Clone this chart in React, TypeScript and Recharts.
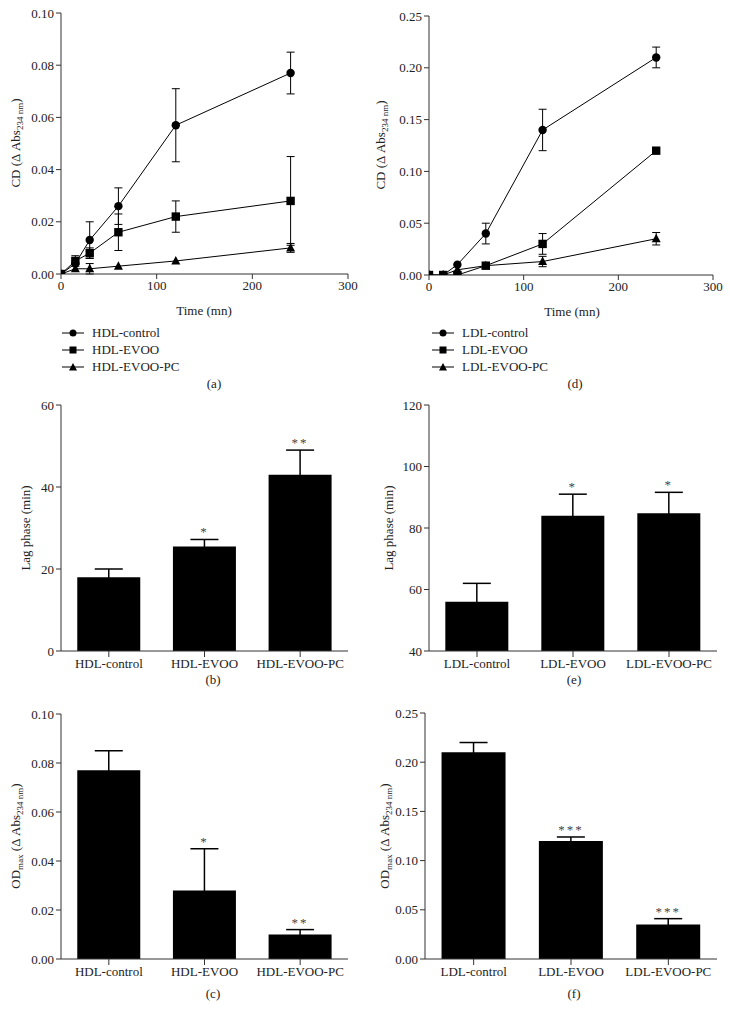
import React from 'react';
import { LineChart, Line, BarChart, Bar, XAxis, YAxis, ErrorBar, LabelList } from 'recharts';

const FONT = '"Liberation Serif", "DejaVu Serif", serif';
const AXIS = '#333';
const TXT = '#222';

// ---------- Kinetics (a) HDL ----------
const timePoints = [0, 15, 30, 60, 120, 240];
const hdlControl = [0, 0.004, 0.013, 0.026, 0.057, 0.077];
const hdlControlErr = [null, null, 0.007, 0.007, 0.014, 0.008];
const hdlEvoo = [0, 0.005, 0.008, 0.016, 0.022, 0.028];
const hdlEvooErr = [null, 0.002, 0.002, 0.007, 0.006, 0.017];
const hdlEvooPc = [0, 0.002, 0.002, 0.003, 0.005, 0.010];
const hdlEvooPcErr = [null, null, 0.002, null, null, 0.0017];

// ---------- Kinetics (d) LDL ----------
const ldlControl = [0, 0, 0.01, 0.04, 0.14, 0.21];
const ldlControlErr = [null, null, null, 0.01, 0.02, 0.01];
const ldlEvoo = [0, 0, 0, 0.009, 0.03, 0.12];
const ldlEvooErr = [null, null, null, null, 0.01, null];
const ldlEvooPc = [0, 0, 0.005, 0.009, 0.013, 0.035];
const ldlEvooPcErr = [null, null, null, null, 0.005, 0.006];

// ---------- Bars ----------
const hdlGroups = ['HDL-control', 'HDL-EVOO', 'HDL-EVOO-PC'];
const ldlGroups = ['LDL-control', 'LDL-EVOO', 'LDL-EVOO-PC'];
const hdlLag = [18, 25.5, 43];
const hdlLagErr = [2, 1.7, 6];
const hdlLagSig = ['', '*', '**'];
const ldlLag = [56, 84, 84.8];
const ldlLagErr = [6, 7, 6.8];
const ldlLagSig = ['', '*', '*'];
const hdlOdMax = [0.077, 0.028, 0.010];
const hdlOdMaxErr = [0.008, 0.017, 0.002];
const hdlOdMaxSig = ['', '*', '**'];
const ldlOdMax = [0.21, 0.12, 0.035];
const ldlOdMaxErr = [0.01, 0.004, 0.006];
const ldlOdMaxSig = ['', '***', '***'];

const cdTicksA = [0, 0.02, 0.04, 0.06, 0.08, 0.1];
const cdTicksD = [0, 0.05, 0.1, 0.15, 0.2, 0.25];
const lagTicksB = [0, 20, 40, 60];
const lagTicksE = [40, 60, 80, 100, 120];
const timeTicks = [0, 100, 200, 300];

const PAD_L = 60, PAD_T = 10, PAD_R = 12, PAD_B = 30;
type Box = { x0: number; y0: number; x1: number; y1: number };
const frame = (p: Box) => ({
  position: 'absolute' as const,
  left: p.x0 - PAD_L,
  top: p.y0 - PAD_T,
  width: p.x1 - p.x0 + PAD_L + PAD_R,
  height: p.y1 - p.y0 + PAD_T + PAD_B,
});

const tickStyle = { fontFamily: FONT, fontSize: 13, fill: TXT };

const CircleDot = (props: any) => {
  const { cx, cy, index } = props;
  if (cx == null || cy == null) return <g key={index} />;
  return <circle key={index} cx={cx} cy={cy} r={4.2} fill="#000" />;
};
const SquareDot = (props: any) => {
  const { cx, cy, index } = props;
  if (cx == null || cy == null) return <g key={index} />;
  return <rect key={index} x={cx - 4.2} y={cy - 4.2} width={8.4} height={8.4} fill="#000" />;
};
const TriDot = (props: any) => {
  const { cx, cy, index } = props;
  if (cx == null || cy == null) return <g key={index} />;
  return <polygon key={index} points={`${cx},${cy - 5} ${cx + 4.5},${cy + 3.5} ${cx - 4.5},${cy + 3.5}`} fill="#000" />;
};

const buildKinetic = (a: number[], ae: any[], b: number[], be: any[], c: number[], ce: any[]) =>
  timePoints.map((t, i) => ({ t, c1: a[i], c1e: ae[i], c2: b[i], c2e: be[i], c3: c[i], c3e: ce[i] }));

const fmt2 = (v: number) => v.toFixed(2);

function KineticPanel({ box, data, domain, ticks }: { box: Box; data: any[]; domain: [number, number]; ticks: number[] }) {
  const f = frame(box);
  return (
    <div style={f}>
      <LineChart width={f.width} height={f.height} data={data} margin={{ top: PAD_T, right: PAD_R, left: 0, bottom: 0 }}>
        <XAxis dataKey="t" type="number" domain={[0, 300]} ticks={timeTicks} height={PAD_B} stroke={AXIS} tick={tickStyle} tickSize={5} allowDataOverflow />
        <YAxis type="number" domain={domain} ticks={ticks} width={PAD_L} stroke={AXIS} tick={tickStyle} tickSize={5} tickFormatter={fmt2} allowDataOverflow />
        <Line dataKey="c1" stroke="#000" strokeWidth={1} dot={CircleDot} isAnimationActive={false}>
          <ErrorBar dataKey="c1e" width={4} stroke="#000" strokeWidth={1} direction="y" />
        </Line>
        <Line dataKey="c3" stroke="#000" strokeWidth={1} dot={TriDot} isAnimationActive={false}>
          <ErrorBar dataKey="c3e" width={4} stroke="#000" strokeWidth={1} direction="y" />
        </Line>
        <Line dataKey="c2" stroke="#000" strokeWidth={1} dot={SquareDot} isAnimationActive={false}>
          <ErrorBar dataKey="c2e" width={4} stroke="#000" strokeWidth={1} direction="y" />
        </Line>
      </LineChart>
    </div>
  );
}

const buildBars = (names: string[], v: number[], e: number[], s: string[]) =>
  names.map((name, i) => ({ name, v: v[i], err: e[i], up: e[i], sig: s[i] }));

function BarPanel({ box, data, domain, ticks, fmt }: { box: Box; data: any[]; domain: [number, number]; ticks: number[]; fmt?: (v: number) => string }) {
  const f = frame(box);
  const base = domain[0];
  const renderSig = (props: any) => {
    const { x, y, width, height, index } = props;
    const row = data[index];
    if (!row || !row.sig) return null;
    const ppu = height / (row.v - base);
    const capY = y - row.up * ppu;
    return (
      <text key={index} x={x + width / 2} y={capY - 3} textAnchor="middle" fontFamily={FONT} fontSize={13} fill="#444" letterSpacing={2}>
        {row.sig}
      </text>
    );
  };
  return (
    <div style={f}>
      <BarChart width={f.width} height={f.height} data={data} margin={{ top: PAD_T, right: PAD_R, left: 0, bottom: 0 }} barCategoryGap="17%">
        <XAxis dataKey="name" height={PAD_B} stroke={AXIS} tick={tickStyle} tickSize={6} interval={0} />
        <YAxis type="number" domain={domain} ticks={ticks} width={PAD_L} stroke={AXIS} tick={tickStyle} tickSize={5} tickFormatter={fmt} allowDataOverflow />
        <Bar dataKey="v" fill="#000" isAnimationActive={false}>
          <ErrorBar dataKey="err" width={14} stroke="#000" strokeWidth={1.5} direction="y" />
          <LabelList dataKey="sig" content={renderSig} />
        </Bar>
      </BarChart>
    </div>
  );
}

const Label = ({ x, y, children, rotate }: { x: number; y: number; children: React.ReactNode; rotate?: boolean }) => (
  <div
    style={{
      position: 'absolute',
      left: x,
      top: y,
      transform: `translate(-50%, -50%)${rotate ? ' rotate(-90deg)' : ''}`,
      fontFamily: FONT,
      fontSize: 13,
      color: TXT,
      whiteSpace: 'nowrap',
      lineHeight: 1,
    }}
  >
    {children}
  </div>
);

const subStyle = { fontSize: 9, verticalAlign: 'sub' as const, lineHeight: 0 };
const CDLabel = () => (
  <span>
    CD (Δ Abs<span style={subStyle}>234 nm</span>)
  </span>
);
const ODLabel = () => (
  <span>
    OD<span style={subStyle}>max</span> (Δ Abs<span style={subStyle}>234 nm</span>)
  </span>
);

const LegendMark = ({ kind }: { kind: 'c' | 's' | 't' }) => (
  <svg width={22} height={10} style={{ display: 'block' }}>
    <line x1={0} y1={5} x2={22} y2={5} stroke="#000" strokeWidth={1} />
    {kind === 'c' && <circle cx={11} cy={5} r={3.5} fill="#000" />}
    {kind === 's' && <rect x={7.5} y={1.5} width={7} height={7} fill="#000" />}
    {kind === 't' && <polygon points="11,1 15,8.5 7,8.5" fill="#000" />}
  </svg>
);

function Legend({ x, textX, names }: { x: number; textX: number; names: string[] }) {
  const ys = [333, 350, 367];
  const kinds: ('c' | 's' | 't')[] = ['c', 's', 't'];
  return (
    <>
      {names.map((n, i) => (
        <React.Fragment key={n}>
          <div style={{ position: 'absolute', left: x, top: ys[i] - 5 }}>
            <LegendMark kind={kinds[i]} />
          </div>
          <div style={{ position: 'absolute', left: textX, top: ys[i] - 8, fontFamily: FONT, fontSize: 13, color: TXT, lineHeight: '16px', whiteSpace: 'nowrap' }}>
            {n}
          </div>
        </React.Fragment>
      ))}
    </>
  );
}

export default function App() {
  const dataA = buildKinetic(hdlControl, hdlControlErr, hdlEvoo, hdlEvooErr, hdlEvooPc, hdlEvooPcErr);
  const dataD = buildKinetic(ldlControl, ldlControlErr, ldlEvoo, ldlEvooErr, ldlEvooPc, ldlEvooPcErr);
  const dataB = buildBars(hdlGroups, hdlLag, hdlLagErr, hdlLagSig);
  const dataE = buildBars(ldlGroups, ldlLag, ldlLagErr, ldlLagSig);
  const dataC = buildBars(hdlGroups, hdlOdMax, hdlOdMaxErr, hdlOdMaxSig);
  const dataF = buildBars(ldlGroups, ldlOdMax, ldlOdMaxErr, ldlOdMaxSig);
  return (
    <div style={{ position: 'absolute', left: 0, top: 0, width: 730, height: 1012, background: '#fff', overflow: 'hidden' }}>
      <KineticPanel box={{ x0: 61, y0: 13, x1: 348, y1: 274 }} data={dataA} domain={[0, 0.1]} ticks={cdTicksA} />
      <KineticPanel box={{ x0: 429, y0: 16, x1: 713, y1: 275 }} data={dataD} domain={[0, 0.25]} ticks={cdTicksD} />
      <BarPanel box={{ x0: 61, y0: 405, x1: 348, y1: 651 }} data={dataB} domain={[0, 60]} ticks={lagTicksB} />
      <BarPanel box={{ x0: 429, y0: 405, x1: 717, y1: 651 }} data={dataE} domain={[40, 120]} ticks={lagTicksE} />
      <BarPanel box={{ x0: 61, y0: 714, x1: 348, y1: 959 }} data={dataC} domain={[0, 0.1]} ticks={cdTicksA} fmt={fmt2} />
      <BarPanel box={{ x0: 425, y0: 713, x1: 717, y1: 959 }} data={dataF} domain={[0, 0.25]} ticks={cdTicksD} fmt={fmt2} />

      <Label x={15} y={143} rotate><CDLabel /></Label>
      <Label x={380} y={145} rotate><CDLabel /></Label>
      <Label x={25} y={528} rotate>Lag phase (min)</Label>
      <Label x={388} y={528} rotate>Lag phase (min)</Label>
      <Label x={15} y={836} rotate><ODLabel /></Label>
      <Label x={384} y={836} rotate><ODLabel /></Label>

      <Label x={204} y={310}>Time (mn)</Label>
      <Label x={572} y={311}>Time (mn)</Label>

      <Legend x={62} textX={92} names={['HDL-control', 'HDL-EVOO', 'HDL-EVOO-PC']} />
      <Legend x={432} textX={462} names={['LDL-control', 'LDL-EVOO', 'LDL-EVOO-PC']} />

      <Label x={214} y={383}>(a)</Label>
      <Label x={575} y={383}>(d)</Label>
      <Label x={213} y={679}>(b)</Label>
      <Label x={574} y={679}>(e)</Label>
      <Label x={213} y={993}>(c)</Label>
      <Label x={574} y={993}>(f)</Label>
    </div>
  );
}
